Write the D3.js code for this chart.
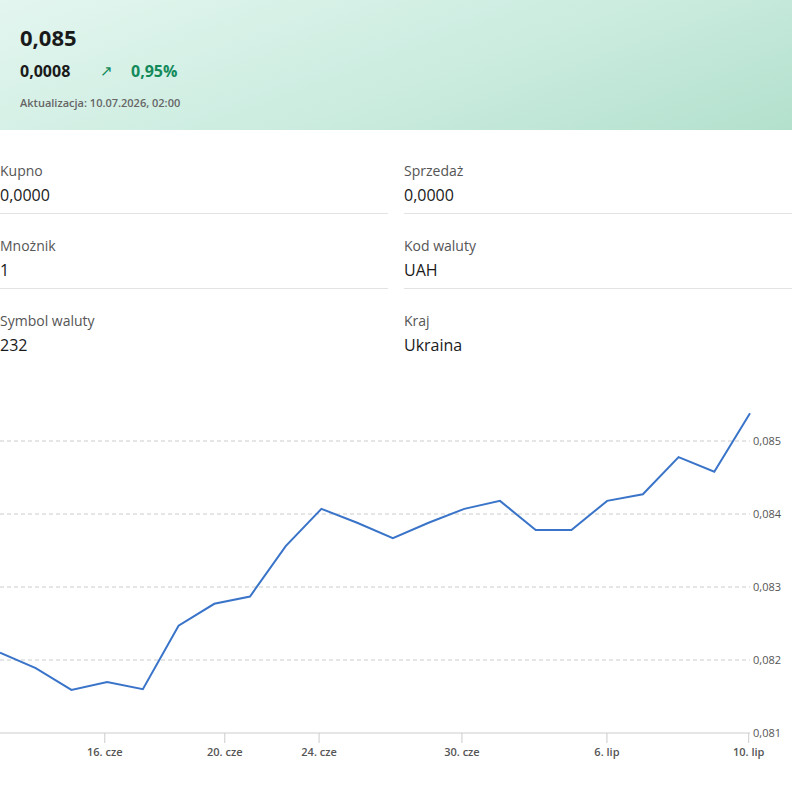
<!DOCTYPE html>
<html><head><meta charset="utf-8">
<script src="https://cdn.jsdelivr.net/npm/d3@7"></script>
<style>
body{margin:0;font-family:"Open Sans",sans-serif;background:#fff;width:792px;overflow:hidden}
#head{height:130px;background:linear-gradient(160deg,#e3f6ef 0%,#c9ebde 60%,#b3e0cd 100%);position:relative}
#rate{position:absolute;left:20px;top:22px;font-size:22px;font-weight:700;color:#1a1a1a}
#chg{position:absolute;left:20px;top:60px;font-size:16px;font-weight:700;color:#1a1a1a}
#arrow{position:absolute;left:100px;top:60px;font-size:15px;color:#138a5a}
#pct{position:absolute;left:131px;top:60px;font-size:16px;font-weight:700;color:#138a5a}
#upd{position:absolute;left:20px;top:95px;font-size:11px;font-weight:600;color:#666}
.cell{position:absolute;width:388px;height:75px;border-bottom:1px solid #e3e3e3}
.cell .l{position:absolute;top:23px;font-size:14px;color:#555}
.cell .v{position:absolute;top:46px;font-size:16px;color:#1a1a1a;font-weight:500}
svg{position:absolute;left:0;top:380px}
</style></head><body>
<div id="head">
<div id="rate">0,085</div>
<div id="chg">0,0008</div>
<div id="arrow">↗</div>
<div id="pct">0,95%</div>
<div id="upd">Aktualizacja: 10.07.2026, 02:00</div>
</div>
<div id="info"></div>
<svg id="chart" width="792" height="400"></svg>
<script>
$ = null;
var cells = [
  ["Kupno","0,0000"],["Sprzedaż","0,0000"],
  ["Mnożnik","1"],["Kod waluty","UAH"],
  ["Symbol waluty","232"],["Kraj","Ukraina"]
];
var info = d3.select('#info');
cells.forEach(function(c, i) {
  var cell = info.append('div').attr('class','cell')
    .style('left', (i % 2 ? 404 : 0) + 'px')
    .style('top', (138 + Math.floor(i/2)*75) + 'px')
    .style('border-bottom', i < 4 ? '1px solid #e3e3e3' : 'none');
  cell.append('div').attr('class','l').text(c[0]);
  cell.append('div').attr('class','v').text(c[1]);
});

// rates, one per trading day
var rates = [0.0821,0.08189,0.08159,0.0817,0.0816,0.08247,0.08277,0.08287,0.08356,0.08407,
  0.08388,0.08367,0.08388,0.08407,0.08418,0.08378,0.08378,0.08418,0.08427,0.08478,0.08458,0.08538];
var ticks = [[2.92,"16. cze"],[6.28,"20. cze"],[8.92,"24. cze"],[12.92,"30. cze"],[16.98,"6. lip"],[20.95,"10. lip"]];

var svg = d3.select('#chart');
var top0 = 380;
var x = d3.scaleLinear().domain([0, 21]).range([0, 750]);
var y = d3.scaleLinear().domain([0.081, 0.085]).range([733 - top0, 441 - top0]);

svg.selectAll('.grid').data([0.082,0.083,0.084,0.085]).enter().append('line')
  .attr('x1', 0).attr('x2', 750).attr('y1', y).attr('y2', y)
  .attr('stroke', '#ccc').attr('stroke-dasharray', '4,3');

var yAxis = svg.append('g').attr('transform', 'translate(750,0)')
  .call(d3.axisRight(y).tickValues([0.081,0.082,0.083,0.084,0.085])
    .tickFormat(function(d){ return d3.format('.3f')(d).replace('.', ','); }).tickSize(0).tickPadding(3));
yAxis.select('.domain').remove();
yAxis.selectAll('text').attr('fill', '#555').style('font-size', '11px').style('font-family','Open Sans');

var xAxis = svg.append('g').attr('transform', 'translate(0,' + y(0.081) + ')')
  .call(d3.axisBottom(x).tickValues(ticks.map(function(t){return t[0];}))
    .tickFormat(function(d, i){ return ticks[i][1]; }).tickSize(10).tickSizeOuter(0).tickPadding(5));
xAxis.select('.domain').attr('stroke', '#ccc').attr('d', 'M0,0H750');
xAxis.selectAll('line').attr('stroke', '#ccc');
xAxis.selectAll('text').attr('fill', '#555').style('font-size', '11px').style('font-weight','600').style('font-family','Open Sans');

svg.append('path').datum(rates)
  .attr('fill', 'none').attr('stroke', '#3a74c9').attr('stroke-width', 2)
  .attr('d', d3.line().x(function(d, i){ return x(i); }).y(function(d){ return y(d); }));
</script>
</body></html>
